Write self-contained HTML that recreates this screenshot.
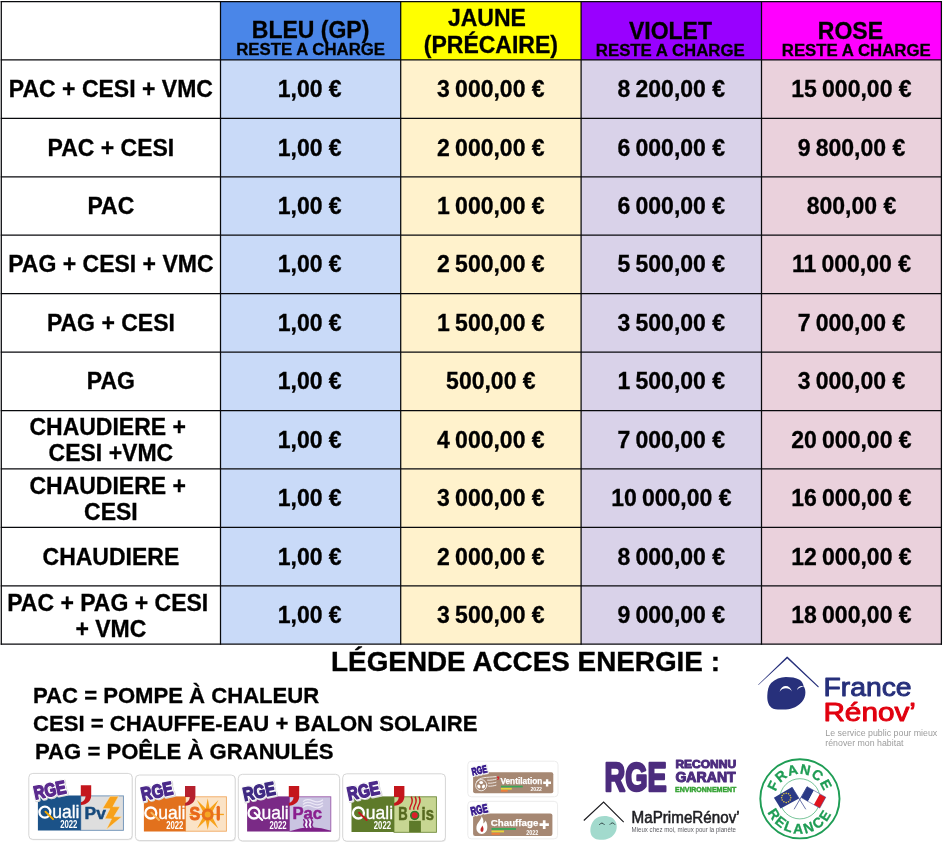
<!DOCTYPE html>
<html><head><meta charset="utf-8"><title>Grille</title>
<style>
html,body{margin:0;padding:0;background:#fff;}
body{width:943px;height:845px;position:relative;overflow:hidden;font-family:"Liberation Sans",sans-serif;font-weight:bold;color:#000;}
.c{position:absolute;display:flex;align-items:center;justify-content:center;text-align:center;font-size:23px;line-height:26px;white-space:nowrap;-webkit-text-stroke:0.3px #000;}
.ln{position:absolute;background:#111;}
.h1{font-size:23px;line-height:22px;}
.h2{font-size:16.8px;line-height:17.8px;}
.t{letter-spacing:-1.2px;}
.lg{position:absolute;white-space:nowrap;}
.lt{font-size:22.1px;line-height:26px;-webkit-text-stroke:0.3px #000;}
svg{position:absolute;overflow:visible;font-weight:normal;will-change:transform;}
#w{position:absolute;left:0;top:0;width:943px;height:845px;will-change:transform;}
</style></head><body><div id="w">

<div style="position:absolute;left:220.5px;top:1.5px;width:180.2px;height:58.4px;background:#4a86e8"></div>
<div style="position:absolute;left:220.5px;top:59.93px;width:180.2px;height:584.3px;background:#c9daf8"></div>
<div style="position:absolute;left:400.7px;top:1.5px;width:180.4px;height:58.4px;background:#ffff00"></div>
<div style="position:absolute;left:400.7px;top:59.93px;width:180.4px;height:584.3px;background:#fff2cc"></div>
<div style="position:absolute;left:581.1px;top:1.5px;width:180.4px;height:58.4px;background:#9900ff"></div>
<div style="position:absolute;left:581.1px;top:59.93px;width:180.4px;height:584.3px;background:#d9d2e9"></div>
<div style="position:absolute;left:761.5px;top:1.5px;width:179.9px;height:58.4px;background:#ff00ff"></div>
<div style="position:absolute;left:761.5px;top:59.93px;width:179.9px;height:584.3px;background:#ead1dc"></div>
<div class="c" style="left:220.5px;top:0;width:180.2px;height:60px;display:block"><div class="h1" style="position:absolute;left:0;right:0;top:18.7px;transform:translateX(0px)">BLEU (GP)</div><div class="h2" style="position:absolute;left:0;right:0;top:40.7px;transform:translateX(0px)">RESTE A CHARGE</div></div>
<div class="c" style="left:400.7px;top:0;width:180.4px;height:60px;display:block"><div class="h1" style="position:absolute;left:-4px;right:4px;top:7.3px">JAUNE</div><div class="h1" style="position:absolute;left:0;right:0;top:33.7px">(PRÉCAIRE)</div></div>
<div class="c" style="left:581.1px;top:0;width:180.4px;height:60px;display:block"><div class="h1" style="position:absolute;left:0;right:0;top:19.6px;transform:translateX(-0.8px)">VIOLET</div><div class="h2" style="position:absolute;left:0;right:0;top:42.3px;transform:translateX(-1px)">RESTE A CHARGE</div></div>
<div class="c" style="left:761.5px;top:0;width:179.9px;height:60px;display:block"><div class="h1" style="position:absolute;left:0;right:0;top:19.6px;transform:translateX(-1px)">ROSE</div><div class="h2" style="position:absolute;left:0;right:0;top:42.3px;transform:translateX(4.8px)">RESTE A CHARGE</div></div>
<div class="c" style="left:1.3px;top:59.9px;width:219.2px;height:58.4px"><span style="position:relative;top:0px">PAC + CESI + VMC</span></div>
<div class="c" style="left:220.5px;top:59.9px;width:180.2px;height:58.4px"><span style="position:relative;left:-0.9px">1,00 €</span></div>
<div class="c" style="left:400.7px;top:59.9px;width:180.4px;height:58.4px"><span style="position:relative;left:0px">3<span class="t"> </span>000,00 €</span></div>
<div class="c" style="left:581.1px;top:59.9px;width:180.4px;height:58.4px"><span style="position:relative;left:0px">8<span class="t"> </span>200,00 €</span></div>
<div class="c" style="left:761.5px;top:59.9px;width:179.9px;height:58.4px"><span style="position:relative;left:0px">15<span class="t"> </span>000,00 €</span></div>
<div class="c" style="left:1.3px;top:118.4px;width:219.2px;height:58.4px"><span style="position:relative;top:0px">PAC + CESI</span></div>
<div class="c" style="left:220.5px;top:118.4px;width:180.2px;height:58.4px"><span style="position:relative;left:-0.9px">1,00 €</span></div>
<div class="c" style="left:400.7px;top:118.4px;width:180.4px;height:58.4px"><span style="position:relative;left:0px">2<span class="t"> </span>000,00 €</span></div>
<div class="c" style="left:581.1px;top:118.4px;width:180.4px;height:58.4px"><span style="position:relative;left:0px">6<span class="t"> </span>000,00 €</span></div>
<div class="c" style="left:761.5px;top:118.4px;width:179.9px;height:58.4px"><span style="position:relative;left:0px">9<span class="t"> </span>800,00 €</span></div>
<div class="c" style="left:1.3px;top:176.8px;width:219.2px;height:58.4px"><span style="position:relative;top:0px">PAC</span></div>
<div class="c" style="left:220.5px;top:176.8px;width:180.2px;height:58.4px"><span style="position:relative;left:-0.9px">1,00 €</span></div>
<div class="c" style="left:400.7px;top:176.8px;width:180.4px;height:58.4px"><span style="position:relative;left:0px">1<span class="t"> </span>000,00 €</span></div>
<div class="c" style="left:581.1px;top:176.8px;width:180.4px;height:58.4px"><span style="position:relative;left:0px">6<span class="t"> </span>000,00 €</span></div>
<div class="c" style="left:761.5px;top:176.8px;width:179.9px;height:58.4px"><span style="position:relative;left:0px">800,00 €</span></div>
<div class="c" style="left:1.3px;top:235.2px;width:219.2px;height:58.4px"><span style="position:relative;top:0px">PAG + CESI + VMC</span></div>
<div class="c" style="left:220.5px;top:235.2px;width:180.2px;height:58.4px"><span style="position:relative;left:-0.9px">1,00 €</span></div>
<div class="c" style="left:400.7px;top:235.2px;width:180.4px;height:58.4px"><span style="position:relative;left:0px">2<span class="t"> </span>500,00 €</span></div>
<div class="c" style="left:581.1px;top:235.2px;width:180.4px;height:58.4px"><span style="position:relative;left:0px">5<span class="t"> </span>500,00 €</span></div>
<div class="c" style="left:761.5px;top:235.2px;width:179.9px;height:58.4px"><span style="position:relative;left:0px">11<span class="t"> </span>000,00 €</span></div>
<div class="c" style="left:1.3px;top:293.6px;width:219.2px;height:58.4px"><span style="position:relative;top:0px">PAG + CESI</span></div>
<div class="c" style="left:220.5px;top:293.6px;width:180.2px;height:58.4px"><span style="position:relative;left:-0.9px">1,00 €</span></div>
<div class="c" style="left:400.7px;top:293.6px;width:180.4px;height:58.4px"><span style="position:relative;left:0px">1<span class="t"> </span>500,00 €</span></div>
<div class="c" style="left:581.1px;top:293.6px;width:180.4px;height:58.4px"><span style="position:relative;left:0px">3<span class="t"> </span>500,00 €</span></div>
<div class="c" style="left:761.5px;top:293.6px;width:179.9px;height:58.4px"><span style="position:relative;left:0px">7<span class="t"> </span>000,00 €</span></div>
<div class="c" style="left:1.3px;top:352.1px;width:219.2px;height:58.4px"><span style="position:relative;top:0px">PAG</span></div>
<div class="c" style="left:220.5px;top:352.1px;width:180.2px;height:58.4px"><span style="position:relative;left:-0.9px">1,00 €</span></div>
<div class="c" style="left:400.7px;top:352.1px;width:180.4px;height:58.4px"><span style="position:relative;left:0px">500,00 €</span></div>
<div class="c" style="left:581.1px;top:352.1px;width:180.4px;height:58.4px"><span style="position:relative;left:0px">1<span class="t"> </span>500,00 €</span></div>
<div class="c" style="left:761.5px;top:352.1px;width:179.9px;height:58.4px"><span style="position:relative;left:0px">3<span class="t"> </span>000,00 €</span></div>
<div class="c" style="left:1.3px;top:410.5px;width:219.2px;height:58.4px"><span style="position:relative;top:0.7px">CHAUDIERE +&nbsp;<br>CESI +VMC</span></div>
<div class="c" style="left:220.5px;top:410.5px;width:180.2px;height:58.4px"><span style="position:relative;left:-0.9px">1,00 €</span></div>
<div class="c" style="left:400.7px;top:410.5px;width:180.4px;height:58.4px"><span style="position:relative;left:0px">4<span class="t"> </span>000,00 €</span></div>
<div class="c" style="left:581.1px;top:410.5px;width:180.4px;height:58.4px"><span style="position:relative;left:0px">7<span class="t"> </span>000,00 €</span></div>
<div class="c" style="left:761.5px;top:410.5px;width:179.9px;height:58.4px"><span style="position:relative;left:0px">20<span class="t"> </span>000,00 €</span></div>
<div class="c" style="left:1.3px;top:468.9px;width:219.2px;height:58.4px"><span style="position:relative;top:0.7px">CHAUDIERE +&nbsp;<br>CESI</span></div>
<div class="c" style="left:220.5px;top:468.9px;width:180.2px;height:58.4px"><span style="position:relative;left:-0.9px">1,00 €</span></div>
<div class="c" style="left:400.7px;top:468.9px;width:180.4px;height:58.4px"><span style="position:relative;left:0px">3<span class="t"> </span>000,00 €</span></div>
<div class="c" style="left:581.1px;top:468.9px;width:180.4px;height:58.4px"><span style="position:relative;left:0px">10<span class="t"> </span>000,00 €</span></div>
<div class="c" style="left:761.5px;top:468.9px;width:179.9px;height:58.4px"><span style="position:relative;left:0px">16<span class="t"> </span>000,00 €</span></div>
<div class="c" style="left:1.3px;top:527.4px;width:219.2px;height:58.4px"><span style="position:relative;top:0px">CHAUDIERE</span></div>
<div class="c" style="left:220.5px;top:527.4px;width:180.2px;height:58.4px"><span style="position:relative;left:-0.9px">1,00 €</span></div>
<div class="c" style="left:400.7px;top:527.4px;width:180.4px;height:58.4px"><span style="position:relative;left:0px">2<span class="t"> </span>000,00 €</span></div>
<div class="c" style="left:581.1px;top:527.4px;width:180.4px;height:58.4px"><span style="position:relative;left:0px">8<span class="t"> </span>000,00 €</span></div>
<div class="c" style="left:761.5px;top:527.4px;width:179.9px;height:58.4px"><span style="position:relative;left:0px">12<span class="t"> </span>000,00 €</span></div>
<div class="c" style="left:1.3px;top:585.8px;width:219.2px;height:58.4px"><span style="position:relative;top:0.7px">PAC + PAG + CESI&nbsp;<br>+ VMC</span></div>
<div class="c" style="left:220.5px;top:585.8px;width:180.2px;height:58.4px"><span style="position:relative;left:-0.9px">1,00 €</span></div>
<div class="c" style="left:400.7px;top:585.8px;width:180.4px;height:58.4px"><span style="position:relative;left:0px">3<span class="t"> </span>500,00 €</span></div>
<div class="c" style="left:581.1px;top:585.8px;width:180.4px;height:58.4px"><span style="position:relative;left:0px">9<span class="t"> </span>000,00 €</span></div>
<div class="c" style="left:761.5px;top:585.8px;width:179.9px;height:58.4px"><span style="position:relative;left:0px">18<span class="t"> </span>000,00 €</span></div>
<svg width="943" height="660" style="left:0;top:0" viewBox="0 0 943 660"><g stroke="#08090c" stroke-width="1.25" fill="none"><line x1="0.75" y1="1.50" x2="941.95" y2="1.50"/><line x1="0.75" y1="59.93" x2="941.95" y2="59.93"/><line x1="0.75" y1="118.36" x2="941.95" y2="118.36"/><line x1="0.75" y1="176.79" x2="941.95" y2="176.79"/><line x1="0.75" y1="235.22" x2="941.95" y2="235.22"/><line x1="0.75" y1="293.65" x2="941.95" y2="293.65"/><line x1="0.75" y1="352.08" x2="941.95" y2="352.08"/><line x1="0.75" y1="410.51" x2="941.95" y2="410.51"/><line x1="0.75" y1="468.94" x2="941.95" y2="468.94"/><line x1="0.75" y1="527.37" x2="941.95" y2="527.37"/><line x1="0.75" y1="585.80" x2="941.95" y2="585.80"/><line x1="0.75" y1="644.23" x2="941.95" y2="644.23"/><line x1="1.30" y1="0.95" x2="1.30" y2="644.78"/><line x1="220.50" y1="0.95" x2="220.50" y2="644.78"/><line x1="400.70" y1="0.95" x2="400.70" y2="644.78"/><line x1="581.10" y1="0.95" x2="581.10" y2="644.78"/><line x1="761.50" y1="0.95" x2="761.50" y2="644.78"/><line x1="941.40" y1="0.95" x2="941.40" y2="644.78"/></g></svg>
<div class="lg" style="left:331.1px;top:645.5px;font-size:27.85px;line-height:32px;-webkit-text-stroke:0.35px #000">LÉGENDE ACCES ENERGIE :</div>
<div class="lg lt" style="left:33px;top:683.3px">PAC = POMPE À CHALEUR</div>
<div class="lg lt" style="left:33px;top:710.9px">CESI = CHAUFFE-EAU + BALON SOLAIRE</div>
<div class="lg lt" style="left:35px;top:738.5px">PAG = POÊLE À GRANULÉS</div>
<svg width="943" height="845" viewBox="0 0 943 845" style="left:0;top:0"><rect x="29.4" y="774.2" width="103.4" height="66.0" rx="4" fill="#e9e9e9"/><rect x="28.8" y="773.4" width="103.4" height="66.0" rx="4" fill="#fff" stroke="#d6d6d6" stroke-width="1"/><rect x="80.8" y="795.9" width="42.6" height="34.4" fill="#dedede" stroke="#6a8fb5" stroke-width="0.9"/><rect x="37.9" y="795.5" width="42.9" height="35.0" fill="#1b5288"/><circle cx="44.9" cy="812.1" r="5.5" fill="none" stroke="#fff" stroke-width="2.3"/><line x1="45.5" y1="811.8" x2="53.0" y2="819.1" stroke="#f5a800" stroke-width="2.0" stroke-linecap="round"/><text transform="translate(52.2,818.3) scale(1,1.09)" x="0" y="0" font-family="Liberation Sans, sans-serif" font-size="17.2" fill="#fff" stroke="#fff" stroke-width="0.3" textLength="27.3" lengthAdjust="spacingAndGlyphs">uali</text><text x="60.2" y="828.4" font-family="Liberation Sans, sans-serif" font-weight="bold" font-size="10.4" fill="#fff" textLength="17.2" lengthAdjust="spacingAndGlyphs">2022</text><path d="M110.1,796.2 L118.6,796.2 L112.9,806.6 L120,806.8 L114,816.6 L121.8,816.8 L106.2,829.7 L111.5,818.9 L104.8,818.7 L109.9,808.8 L102.6,808.4 Z" fill="#f7a11a" stroke="#f3e3c3" stroke-width="0.6"/><text x="84.6" y="819.4" font-family="Liberation Sans, sans-serif" font-weight="bold" font-size="17.4" fill="#174a7c" stroke="#174a7c" stroke-width="0.5" textLength="21.3" lengthAdjust="spacingAndGlyphs">Pv</text><g transform="translate(35.2,799.6) rotate(-12)"><text x="0" y="0" font-family="Liberation Sans, sans-serif" font-weight="bold" font-size="18.5" textLength="32.5" lengthAdjust="spacingAndGlyphs" fill="#fff" stroke="#d9d9d9" stroke-width="4.4" stroke-linejoin="round" transform="translate(0.5,0.7)">RGE</text><text x="0" y="0" font-family="Liberation Sans, sans-serif" font-weight="bold" font-size="18.5" textLength="32.5" lengthAdjust="spacingAndGlyphs" fill="#fff" stroke="#fff" stroke-width="3.4" stroke-linejoin="round">RGE</text><text x="0" y="0" font-family="Liberation Sans, sans-serif" font-weight="bold" font-size="18.5" textLength="32.5" lengthAdjust="spacingAndGlyphs" fill="#5b2a8e" stroke="#5b2a8e" stroke-width="1.5" stroke-linejoin="round">RGE</text></g><path transform="translate(80.8,785.2) scale(1.0)" fill="#c4161c" d="M0,0 H10.4 V10 C10.4,16 6,19.4 0.1,19.8 V17.1 C2.6,16.5 4.6,14.5 4.8,11.1 H0 Z"/><rect x="136.0" y="775.8" width="99.8" height="65.6" rx="4" fill="#e9e9e9"/><rect x="135.4" y="775.0" width="99.8" height="65.6" rx="4" fill="#fff" stroke="#d6d6d6" stroke-width="1"/><rect x="185.6" y="796.8" width="40.8" height="34.4" fill="#fbe3c6" stroke="#f0a860" stroke-width="0.9"/><rect x="143.9" y="796.4" width="41.7" height="35.1" fill="#e2711d"/><circle cx="150.8" cy="813.0" r="5.5" fill="none" stroke="#fff" stroke-width="2.3"/><line x1="151.4" y1="812.7" x2="159.0" y2="820.0" stroke="#f7b45a" stroke-width="2.0" stroke-linecap="round"/><text transform="translate(158.2,819.2) scale(1,1.09)" x="0" y="0" font-family="Liberation Sans, sans-serif" font-size="17.2" fill="#fff" stroke="#fff" stroke-width="0.3" textLength="27.3" lengthAdjust="spacingAndGlyphs">uali</text><text x="166.2" y="829.3" font-family="Liberation Sans, sans-serif" font-weight="bold" font-size="10.4" fill="#fff" textLength="17.2" lengthAdjust="spacingAndGlyphs">2022</text><clipPath id="c2"><rect x="185.6" y="796.4" width="41" height="35.1"/></clipPath><g clip-path="url(#c2)" fill="#f7a21b"><polygon points="210.0,810.4 207.7,798.3 205.4,810.4"/><polygon points="205.4,818.4 207.7,830.1 210.0,818.4"/><polygon points="211.9,812.6 218.5,800.0 208.3,809.8"/><polygon points="207.1,809.8 196.9,800.0 203.5,812.6"/><polygon points="208.3,819.0 218.3,828.5 211.9,816.2"/><polygon points="203.5,816.2 197.1,828.5 207.1,819.0"/><rect x="189.5" y="813.8" width="34.4" height="1.3"/></g><circle cx="207.7" cy="814.4" r="4.5" fill="#f5a623" stroke="#e8701c" stroke-width="3.0"/><text x="189.6" y="820.3" font-family="Liberation Sans, sans-serif" font-weight="bold" font-size="17.6" fill="#e8681c" stroke="#e8681c" stroke-width="0.9" stroke-linejoin="round" textLength="10.6" lengthAdjust="spacingAndGlyphs">S</text><path d="M218.25,807.3 V819.0" stroke="#e8681c" stroke-width="3.3" stroke-linecap="round" fill="none"/><g transform="translate(142.6,800.7) rotate(-12)"><text x="0" y="0" font-family="Liberation Sans, sans-serif" font-weight="bold" font-size="18.5" textLength="32.0" lengthAdjust="spacingAndGlyphs" fill="#fff" stroke="#d9d9d9" stroke-width="4.4" stroke-linejoin="round" transform="translate(0.5,0.7)">RGE</text><text x="0" y="0" font-family="Liberation Sans, sans-serif" font-weight="bold" font-size="18.5" textLength="32.0" lengthAdjust="spacingAndGlyphs" fill="#fff" stroke="#fff" stroke-width="3.4" stroke-linejoin="round">RGE</text><text x="0" y="0" font-family="Liberation Sans, sans-serif" font-weight="bold" font-size="18.5" textLength="32.0" lengthAdjust="spacingAndGlyphs" fill="#4b2a8a" stroke="#4b2a8a" stroke-width="1.5" stroke-linejoin="round">RGE</text></g><path transform="translate(185.0,786.0) scale(1.0)" fill="#b5202d" d="M0,0 H10.4 V10 C10.4,16 6,19.4 0.1,19.8 V17.1 C2.6,16.5 4.6,14.5 4.8,11.1 H0 Z"/><rect x="238.9" y="775.1" width="101.3" height="66.6" rx="4" fill="#e9e9e9"/><rect x="238.3" y="774.3" width="101.3" height="66.6" rx="4" fill="#fff" stroke="#d6d6d6" stroke-width="1"/><rect x="289.4" y="796.8" width="41.4" height="34.4" fill="#cac4e1" stroke="#9a5aaa" stroke-width="0.9"/><path d="M289.4,831.6 Q311,823.4 331,830.8 V831.6 Z" fill="#7d1f86"/><rect x="247.1" y="796.4" width="42.3" height="35.1" fill="#7a2a86"/><circle cx="254.0" cy="813.0" r="5.5" fill="none" stroke="#fff" stroke-width="2.3"/><line x1="254.6" y1="812.7" x2="262.2" y2="820.0" stroke="#fff" stroke-width="2.0" stroke-linecap="round"/><text transform="translate(261.4,819.2) scale(1,1.09)" x="0" y="0" font-family="Liberation Sans, sans-serif" font-size="17.2" fill="#fff" stroke="#fff" stroke-width="0.3" textLength="27.3" lengthAdjust="spacingAndGlyphs">uali</text><text x="269.4" y="829.3" font-family="Liberation Sans, sans-serif" font-weight="bold" font-size="10.4" fill="#fff" textLength="17.2" lengthAdjust="spacingAndGlyphs">2022</text><path d="M303.0,801.6 C306,798.4 309,799.0 313,800.9 S319.5,802.6 323,799.8" fill="none" stroke="#ece8f6" stroke-width="1.25"/><path d="M303.0,804.5 C306,801.3 309,801.9 313,803.8 S319.5,805.5 323,802.7" fill="none" stroke="#ece8f6" stroke-width="1.25"/><path d="M303.0,807.4 C306,804.2 309,804.8 313,806.7 S319.5,808.4 323,805.6" fill="none" stroke="#ece8f6" stroke-width="1.25"/><path d="M305.7,820.2 q1.7,1.8 0.6,3.7 t0.9,3.8" fill="none" stroke="#f3f0fa" stroke-width="1.7"/><path d="M309.5,820.2 q1.7,1.8 0.6,3.7 t0.9,3.8" fill="none" stroke="#f3f0fa" stroke-width="1.7"/><path d="M303.7,819.8 q1.7,1.8 0.6,3.7 t0.9,3.8" fill="none" stroke="#7d1f86" stroke-width="1.5" stroke-linecap="round"/><path d="M307.6,819.8 q1.7,1.8 0.6,3.7 t0.9,3.8" fill="none" stroke="#7d1f86" stroke-width="1.5" stroke-linecap="round"/><path d="M311.4,819.8 q1.7,1.8 0.6,3.7 t0.9,3.8" fill="none" stroke="#7d1f86" stroke-width="1.5" stroke-linecap="round"/><text x="292.4" y="819.2" font-family="Liberation Sans, sans-serif" font-weight="bold" font-size="17.2" fill="#8a1f8f" stroke="#8a1f8f" stroke-width="0.5" stroke-linejoin="round" textLength="29.6" lengthAdjust="spacingAndGlyphs">Pac</text><g transform="translate(244.4,800.9) rotate(-12)"><text x="0" y="0" font-family="Liberation Sans, sans-serif" font-weight="bold" font-size="18.5" textLength="32.5" lengthAdjust="spacingAndGlyphs" fill="#fff" stroke="#d9d9d9" stroke-width="4.4" stroke-linejoin="round" transform="translate(0.5,0.7)">RGE</text><text x="0" y="0" font-family="Liberation Sans, sans-serif" font-weight="bold" font-size="18.5" textLength="32.5" lengthAdjust="spacingAndGlyphs" fill="#fff" stroke="#fff" stroke-width="3.4" stroke-linejoin="round">RGE</text><text x="0" y="0" font-family="Liberation Sans, sans-serif" font-weight="bold" font-size="18.5" textLength="32.5" lengthAdjust="spacingAndGlyphs" fill="#3f2a82" stroke="#3f2a82" stroke-width="1.5" stroke-linejoin="round">RGE</text></g><path transform="translate(288.8,786.0) scale(1.0)" fill="#c4161c" d="M0,0 H10.4 V10 C10.4,16 6,19.4 0.1,19.8 V17.1 C2.6,16.5 4.6,14.5 4.8,11.1 H0 Z"/><rect x="343.3" y="774.6" width="102.7" height="67.4" rx="4" fill="#e9e9e9"/><rect x="342.7" y="773.8" width="102.7" height="67.4" rx="4" fill="#fff" stroke="#d6d6d6" stroke-width="1"/><rect x="394.0" y="796.8" width="42.4" height="35.5" fill="#c7d692" stroke="#6f8a3a" stroke-width="0.9"/><rect x="409.1" y="820.8" width="11.8" height="11.4" fill="#5e7a2a"/><rect x="351.5" y="796.4" width="42.5" height="35.6" fill="#5e7a2a"/><circle cx="358.4" cy="813.0" r="5.5" fill="none" stroke="#fff" stroke-width="2.3"/><line x1="359.1" y1="812.7" x2="366.6" y2="820.0" stroke="#c4161c" stroke-width="2.0" stroke-linecap="round"/><text transform="translate(365.8,819.2) scale(1,1.09)" x="0" y="0" font-family="Liberation Sans, sans-serif" font-size="17.2" fill="#fff" stroke="#fff" stroke-width="0.3" textLength="27.3" lengthAdjust="spacingAndGlyphs">uali</text><text x="373.8" y="829.3" font-family="Liberation Sans, sans-serif" font-weight="bold" font-size="10.4" fill="#fff" textLength="17.2" lengthAdjust="spacingAndGlyphs">2022</text><path d="M411.2,796.6 C412.8,800 412.5,802.4 411.0,805 C409.9,807 409.6,808.4 410.1,809.8" fill="none" stroke="#c8161e" stroke-width="1.45"/><path d="M415.1,796.6 C416.7,800 416.4,802.4 414.9,805 C413.8,807 413.5,808.4 414.0,809.8" fill="none" stroke="#c8161e" stroke-width="1.45"/><path d="M419.0,796.6 C420.6,800 420.3,802.4 418.8,805 C417.7,807 417.4,808.4 417.9,809.8" fill="none" stroke="#c8161e" stroke-width="1.45"/><text x="398.3" y="820.2" font-family="Liberation Sans, sans-serif" font-weight="bold" font-size="17.6" fill="#56691f" stroke="#56691f" stroke-width="0.6" stroke-linejoin="round" textLength="9.4" lengthAdjust="spacingAndGlyphs">B</text><circle cx="414.7" cy="815.4" r="5.0" fill="#d9e2b0"/><circle cx="414.7" cy="815.4" r="3.9" fill="#d8202a" stroke="#2f7a2a" stroke-width="1.7"/><text x="421.6" y="820.4" font-family="Liberation Sans, sans-serif" font-weight="bold" font-size="17.6" fill="#56691f" stroke="#56691f" stroke-width="0.5" textLength="12.4" lengthAdjust="spacingAndGlyphs">is</text><g transform="translate(348.8,800.5) rotate(-12)"><text x="0" y="0" font-family="Liberation Sans, sans-serif" font-weight="bold" font-size="18.5" textLength="32.5" lengthAdjust="spacingAndGlyphs" fill="#fff" stroke="#d9d9d9" stroke-width="4.4" stroke-linejoin="round" transform="translate(0.5,0.7)">RGE</text><text x="0" y="0" font-family="Liberation Sans, sans-serif" font-weight="bold" font-size="18.5" textLength="32.5" lengthAdjust="spacingAndGlyphs" fill="#fff" stroke="#fff" stroke-width="3.4" stroke-linejoin="round">RGE</text><text x="0" y="0" font-family="Liberation Sans, sans-serif" font-weight="bold" font-size="18.5" textLength="32.5" lengthAdjust="spacingAndGlyphs" fill="#4b2a8a" stroke="#4b2a8a" stroke-width="1.5" stroke-linejoin="round">RGE</text></g><path transform="translate(394.0,786.0) scale(1.0)" fill="#c4161c" d="M0,0 H10.4 V10 C10.4,16 6,19.4 0.1,19.8 V17.1 C2.6,16.5 4.6,14.5 4.8,11.1 H0 Z"/></svg>
<svg width="943" height="845" viewBox="0 0 943 845" style="left:0;top:0"><rect x="467.8" y="761.2" width="90.2" height="35.6" rx="3.5" fill="#fff" stroke="#ececec" stroke-width="1"/><rect x="473.1" y="772.2" width="80.2" height="21.1" rx="2" fill="#a68873"/><g fill="none" stroke="#fff" stroke-width="0.8" stroke-linecap="round"><circle cx="481.2" cy="785.2" r="5.6"/><path d="M476.6,781.6 C479.5,776.8 486.5,777.6 496,776.6"/><path d="M487.6,780.2 C491,780.4 494,779.8 496,779.2"/><path d="M488.4,783.2 C491,783.4 494,782.8 496,782.2"/><path d="M488.6,786.2 C491,786.4 494,785.8 496,785.2"/></g><ellipse cx="481.2" cy="782.6" rx="1.9" ry="1.5" transform="rotate(0 481.2 782.6)" fill="#fff"/><ellipse cx="483.5" cy="786.5" rx="1.9" ry="1.5" transform="rotate(120 483.5 786.5)" fill="#fff"/><ellipse cx="478.9" cy="786.5" rx="1.9" ry="1.5" transform="rotate(240 478.9 786.5)" fill="#fff"/><path d="M497.1,776.6 h2.1 v1.4 c0,1.3 -0.9,2 -2.1,2.1 v-0.7 c0.6,-0.2 0.9,-0.6 0.9,-1.3 h-0.9 z" fill="#d8202a"/><text x="500.4" y="784.3" font-family="Liberation Sans, sans-serif" font-weight="bold" font-size="8.3" fill="#fff" stroke="#fff" stroke-width="0.25" textLength="42.0" lengthAdjust="spacingAndGlyphs">Ventilation</text><path d="M547.1,779.2 v7.2 M543.2,782.8 h7.8" stroke="#fff" stroke-width="2.4" fill="none"/><rect x="500.9" y="785.7" width="21.8" height="1.7" fill="#3aa657"/><rect x="500.9" y="787.9" width="10.9" height="1.7" fill="#e8d43a"/><rect x="500.9" y="790.0" width="6.8" height="1.7" fill="#ee7d3a"/><text x="530.5" y="791.4" font-family="Liberation Sans, sans-serif" font-weight="bold" font-size="6.2" fill="#fff" textLength="11.5" lengthAdjust="spacingAndGlyphs">2022</text><g transform="translate(472.4,775.4) rotate(-12)"><text x="0" y="0" font-family="Liberation Sans, sans-serif" font-weight="bold" font-size="10.5" textLength="15.5" lengthAdjust="spacingAndGlyphs" fill="#fff" stroke="#e4e4e4" stroke-width="3.0" stroke-linejoin="round" transform="translate(0.4,0.5)">RGE</text><text x="0" y="0" font-family="Liberation Sans, sans-serif" font-weight="bold" font-size="10.5" textLength="15.5" lengthAdjust="spacingAndGlyphs" fill="#fff" stroke="#fff" stroke-width="2.2" stroke-linejoin="round">RGE</text><text x="0" y="0" font-family="Liberation Sans, sans-serif" font-weight="bold" font-size="10.5" textLength="15.5" lengthAdjust="spacingAndGlyphs" fill="#34178a" stroke="#34178a" stroke-width="0.9" stroke-linejoin="round">RGE</text></g><rect x="467.8" y="801.3" width="89.8" height="37.6" rx="3.5" fill="#fff" stroke="#ececec" stroke-width="1"/><rect x="473.1" y="813.4" width="79.3" height="22.5" rx="2" fill="#a68873"/><path d="M481.6,816.2 C483.4,819.2 483.8,821 483.2,823.4 C484.6,822.6 485.4,821.4 485.6,820.4 C487.2,823 487.6,826 487.2,828.6 C486.8,831.8 484.6,833.9 481.8,833.9 C478.8,833.9 476.6,831.8 476.4,828.6 C476.2,825.2 477.8,823 479.2,821.2 C480.4,819.6 481.4,818 481.6,816.2 Z" fill="#fff"/><path d="M482.2,825.6 C483.6,827.4 483.8,829.6 483.2,831 C482.8,832 481.4,832.2 480.8,831.2 C480.2,830 480.6,828.6 481.4,827.6 C481.8,827 482.1,826.4 482.2,825.6 Z" fill="#c22a2a"/><text x="490.8" y="826.4" font-family="Liberation Sans, sans-serif" font-weight="bold" font-size="9.7" fill="#fff" stroke="#fff" stroke-width="0.25" textLength="47.5" lengthAdjust="spacingAndGlyphs">Chauffage</text><path d="M544.2,820.2 v8.8 M539.5,824.6 h9.4" stroke="#fff" stroke-width="2.7" fill="none"/><rect x="491.5" y="828.0" width="24.5" height="1.9" fill="#3aa657"/><rect x="491.5" y="830.5" width="12.5" height="1.9" fill="#e8d43a"/><rect x="491.5" y="832.9" width="8.4" height="1.9" fill="#ee7d3a"/><text x="526.2" y="834.5" font-family="Liberation Sans, sans-serif" font-weight="bold" font-size="7.2" fill="#fff" textLength="12.2" lengthAdjust="spacingAndGlyphs">2022</text><g transform="translate(471.4,815.4) rotate(-12)"><text x="0" y="0" font-family="Liberation Sans, sans-serif" font-weight="bold" font-size="11.8" textLength="17.4" lengthAdjust="spacingAndGlyphs" fill="#fff" stroke="#e4e4e4" stroke-width="3.0" stroke-linejoin="round" transform="translate(0.4,0.5)">RGE</text><text x="0" y="0" font-family="Liberation Sans, sans-serif" font-weight="bold" font-size="11.8" textLength="17.4" lengthAdjust="spacingAndGlyphs" fill="#fff" stroke="#fff" stroke-width="2.2" stroke-linejoin="round">RGE</text><text x="0" y="0" font-family="Liberation Sans, sans-serif" font-weight="bold" font-size="11.8" textLength="17.4" lengthAdjust="spacingAndGlyphs" fill="#34178a" stroke="#34178a" stroke-width="0.9" stroke-linejoin="round">RGE</text></g><text x="604.4" y="791.3" font-family="Liberation Sans, sans-serif" font-weight="bold" font-size="41.5" fill="#4c2c7e" stroke="#4c2c7e" stroke-width="2.6" stroke-linejoin="round" textLength="62.4" lengthAdjust="spacingAndGlyphs">RGE</text><text x="675.4" y="768.3" font-family="Liberation Sans, sans-serif" font-weight="bold" font-size="11.8" fill="#4c2c7e" stroke="#4c2c7e" stroke-width="1.0" stroke-linejoin="round" textLength="60.7" lengthAdjust="spacingAndGlyphs">RECONNU</text><text x="675.4" y="782.3" font-family="Liberation Sans, sans-serif" font-weight="bold" font-size="14.1" fill="#4c2c7e" stroke="#4c2c7e" stroke-width="1.0" stroke-linejoin="round" textLength="60.3" lengthAdjust="spacingAndGlyphs">GARANT</text><text x="675.0" y="791.5" font-family="Liberation Sans, sans-serif" font-weight="bold" font-size="7.3" fill="#35a234" stroke="#35a234" stroke-width="0.45" textLength="61.4" lengthAdjust="spacingAndGlyphs">ENVIRONNEMENT</text><path d="M583.8,820.5 L603.6,802.1 L623.7,822.2" fill="none" stroke="#1c1c20" stroke-width="1.15" stroke-linejoin="miter"/><path d="M594.6,819.4 C598.6,815.6 606.8,815.0 611.6,817.6 C616.2,820.2 617.8,825.6 616.2,830.6 C614.6,835.8 609.6,839.4 603.4,839.8 C597.4,840.2 592.2,838.6 590.8,833.4 C589.6,828.6 591.2,822.8 594.6,819.4 Z" fill="#a2dacd"/><path d="M599.5,824.6 q2.4,-3.3 4.8,0 M610.0,824.4 q2.4,-3.3 4.8,0" fill="none" stroke="#2a3c3e" stroke-width="0.95" stroke-linecap="round"/><text x="631.6" y="822.8" font-family="Liberation Sans, sans-serif" font-size="16.1" fill="#1e1e22" stroke="#1e1e22" stroke-width="0.55" textLength="108" lengthAdjust="spacingAndGlyphs">MaPrimeRénov’</text><text x="631.6" y="832.3" font-family="Liberation Sans, sans-serif" font-size="6.3" fill="#5c5c62" textLength="104.4" lengthAdjust="spacingAndGlyphs">Mieux chez moi, mieux pour la planète</text><path d="M758.1,684.8 L787.0,656.4 L787.6,656.8 L818.8,686.6 L818.2,687.4 L787.2,658.6 L758.5,685.1 Z" fill="#27307b"/><path d="M771.1,683.1 C775,679 780.5,677 785.9,677 C791,677 796,677.6 799.5,679.7 C802,681.4 803.3,683.6 803.7,686.5 C804.9,688.2 805.4,690.2 805.4,692.4 C805.4,696 804.2,699.2 802,701.7 C798.4,706 792.4,709.2 785.9,709.4 C780.6,709.6 774.8,710 771.5,707.7 C768.2,705.2 767.1,700.4 767.3,695.8 C767.5,690.8 768.4,686 771.1,683.1 Z" fill="#27307b"/><path d="M779.6,691.8 C781.2,684.2 790.2,684 791.9,691.6 C789.4,687.2 782.4,687.2 779.6,691.8 Z" fill="#fff"/><path d="M797.0,690.0 C797.8,686.6 801.2,685.2 804.2,686.6 C801.4,686.8 798.8,687.6 797.0,690.0 Z" fill="#fff"/><text x="823.4" y="695.7" font-family="Liberation Sans, sans-serif" font-size="26.6" fill="#27307b" stroke="#27307b" stroke-width="0.95" stroke-linejoin="round" textLength="88.2" lengthAdjust="spacingAndGlyphs">France</text><text x="823.4" y="720.6" font-family="Liberation Sans, sans-serif" font-size="26.2" fill="#e1000f" stroke="#e1000f" stroke-width="0.95" stroke-linejoin="round" textLength="92.6" lengthAdjust="spacingAndGlyphs">Rénov’</text><text x="825.3" y="735.6" font-family="Liberation Sans, sans-serif" font-size="8.6" fill="#9c9c9c" textLength="112" lengthAdjust="spacingAndGlyphs">Le service public pour mieux</text><text x="825.3" y="745.6" font-family="Liberation Sans, sans-serif" font-size="8.6" fill="#9c9c9c" textLength="78.2" lengthAdjust="spacingAndGlyphs">rénover mon habitat</text><circle cx="799.9" cy="798.8" r="39.6" fill="#fff" stroke="#1f9d55" stroke-width="1.9"/><circle cx="799.9" cy="798.8" r="20.1" fill="none" stroke="#1f9d55" stroke-width="0.6"/><path id="arcT" d="M775.1,798.8 A24.8,24.8 0 0 1 824.6999999999999,798.8" fill="none"/><path id="arcB" d="M765.0,798.8 A34.9,34.9 0 0 0 834.8,798.8" fill="none"/><text font-family="Liberation Sans, sans-serif" font-weight="bold" font-size="14" fill="#1f9d55" stroke="#1f9d55" stroke-width="0.3" letter-spacing="0.9" text-anchor="middle"><textPath href="#arcT" startOffset="50%">FRANCE</textPath></text><text font-family="Liberation Sans, sans-serif" font-weight="bold" font-size="14" fill="#1f9d55" stroke="#1f9d55" stroke-width="0.3" letter-spacing="2.0" text-anchor="middle"><textPath href="#arcB" startOffset="50%">RELANCE</textPath></text><path d="M792.0,787.1 L805.8,809.3 M807.2,786.7 L794.1,809.3" stroke="#2b3a85" stroke-width="0.7" fill="none"/><polygon points="773.9,797.8 792.0,787.1 799.0,798.4 780.6,808.6" fill="#2b3a85" /><circle cx="790.8" cy="797.8" r="0.75" fill="#f2d33a"/><circle cx="790.1" cy="800.1" r="0.75" fill="#f2d33a"/><circle cx="788.5" cy="801.8" r="0.75" fill="#f2d33a"/><circle cx="786.2" cy="802.4" r="0.75" fill="#f2d33a"/><circle cx="783.9" cy="801.8" r="0.75" fill="#f2d33a"/><circle cx="782.2" cy="800.1" r="0.75" fill="#f2d33a"/><circle cx="781.6" cy="797.8" r="0.75" fill="#f2d33a"/><circle cx="782.2" cy="795.5" r="0.75" fill="#f2d33a"/><circle cx="783.9" cy="793.8" r="0.75" fill="#f2d33a"/><circle cx="786.2" cy="793.2" r="0.75" fill="#f2d33a"/><circle cx="788.5" cy="793.8" r="0.75" fill="#f2d33a"/><circle cx="790.1" cy="795.5" r="0.75" fill="#f2d33a"/><polygon points="807.2,786.7 813.9,790.5 808.0,801.4 801.3,797.6" fill="#2b3a85" /><polygon points="813.9,790.5 819.8,793.9 813.9,804.7 808.0,801.4" fill="#fff" /><polygon points="819.8,793.9 825.8,797.2 819.8,808.1 813.9,804.7" fill="#e1141e" /><polygon points="807.2,786.7 825.8,797.2 819.8,808.1 801.3,797.6" fill="none" stroke="#2b3a85" stroke-width="0.5"/></svg>
</div></body></html>
